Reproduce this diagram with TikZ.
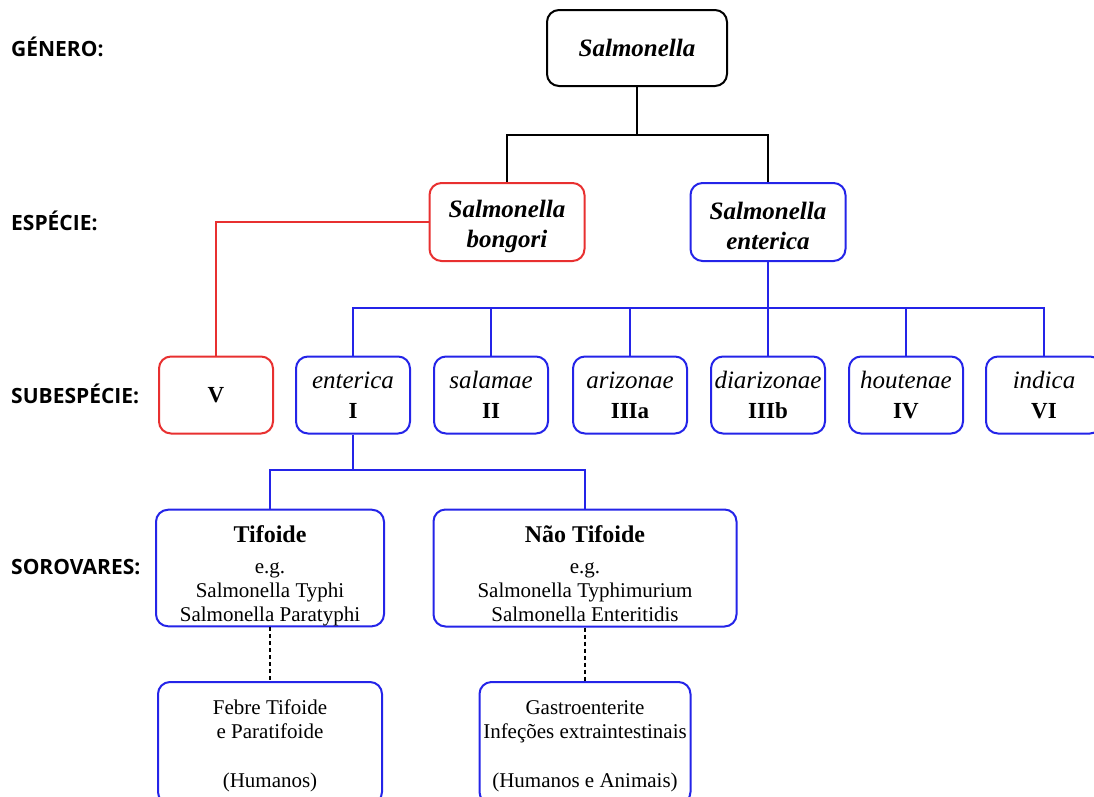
\documentclass[tikz,border=0pt]{standalone}
\usepackage{fontspec}
\setmainfont{Liberation Serif}
\newfontfamily\labfont{Open Sans}
\usetikzlibrary{positioning}
\definecolor{sred}{RGB}{232,48,48}
\definecolor{sblue}{RGB}{36,36,232}
\newcommand{\topgap}[1]{\rule{0pt}{#1}}
\newcommand{\botgap}[1]{\rule[-#1]{0pt}{#1}}

\begin{document}
\begin{tikzpicture}[x=1pt, y=-1pt,
  lab/.style={font={\fontsize{21}{24}\selectfont\labfont\bfseries}, anchor=base west, inner sep=0pt},
  box/.style={draw, rounded corners=12pt, line width=2pt, align=center, inner sep=0pt},
  genbox/.style={box, minimum width=180pt, minimum height=76pt,
                 font=\fontsize{25}{30}\selectfont\bfseries\itshape},
  spbox/.style={box, minimum width=155pt, minimum height=78pt,
                font=\fontsize{25}{30}\selectfont\bfseries\itshape},
  subbox/.style={box, draw=sblue, minimum width=114pt, minimum height=77pt,
                 font=\fontsize{23}{30}\selectfont},
  sorbox/.style={box, draw=sblue, minimum height=116pt, font=\fontsize{21}{24}\selectfont},
  dzbox/.style={box, draw=sblue, minimum height=122pt, font=\fontsize{21}{24}\selectfont},
  conn/.style={line width=2pt},
  dash line/.style={line width=1.4pt, dashed, dash pattern=on 4pt off 3pt}]

\useasboundingbox (0,0) rectangle (1094,796);

% Row labels
\node[lab] (lgen) at (11,56) {GÉNERO:};
\node[lab] (lesp) at (11,230) {ESPÉCIE:};
\node[lab] (lsub) at (11,403) {SUBESPÉCIE:};
\node[lab] (lsor) at (11,574) {SOROVARES:};

% Genus and species
\node[genbox] (salm) at (637,48) {Salmonella};
\node[spbox, draw=sred] (bong) at (507,222) {\topgap{26pt}Salmonella\\bongori};
\node[spbox, draw=sblue] (ente) at (768,222) {\topgap{26pt}Salmonella\\enterica};

% Subspecies
\node[subbox, draw=sred] (sV) at (216,395) {\textbf{V}};
\node[subbox] (sI) at (353,395) {{\fontsize{25}{30}\selectfont\itshape enterica}\\\textbf{I}};
\node[subbox] (sII) at (491,395) {{\fontsize{25}{30}\selectfont\itshape salamae}\\\textbf{II}};
\node[subbox] (sIIIa) at (630,395) {{\fontsize{25}{30}\selectfont\itshape arizonae}\\\textbf{IIIa}};
\node[subbox] (sIIIb) at (768,395) {{\fontsize{25}{30}\selectfont\itshape diarizonae}\\\textbf{IIIb}};
\node[subbox] (sIV) at (906,395) {{\fontsize{25}{30}\selectfont\itshape houtenae}\\\textbf{IV}};
\node[subbox, minimum width=116pt] (sVI) at (1044,395) {{\fontsize{25}{30}\selectfont\itshape indica}\\\textbf{VI}};

% Serovars
\node[sorbox, minimum width=228pt] (tif) at (270,568)
  {{\fontsize{24}{24}\selectfont\bfseries\topgap{33pt}Tifoide}\\[7pt]e.g.\\Salmonella Typhi\\Salmonella Paratyphi};
\node[sorbox, minimum width=303pt] (ntif) at (585,568)
  {{\fontsize{24}{24}\selectfont\bfseries\topgap{33pt}Não Tifoide}\\[7pt]e.g.\\Salmonella Typhimurium\\Salmonella Enteritidis\botgap{5pt}};

% Diseases
\node[dzbox, minimum width=224pt] (febre) at (270,743)
  {\topgap{21pt}Febre Tifoide\\e Paratifoide\\[25pt](Humanos)};
\node[dzbox, minimum width=211pt] (gastro) at (585,743)
  {\topgap{21pt}Gastroenterite\\Infeções extraintestinais\\[25pt](Humanos e Animais)};

% Connectors
\coordinate (j1) at (637,135);
\coordinate (j2) at (768,308);
\coordinate (j3) at (353,470);
\draw[conn] (salm) -- (j1) -| (bong.north);
\draw[conn] (j1) -| (ente.north);
\draw[conn, sred] (bong.west) -| (sV.north);
\draw[conn, sblue] (ente) -- (j2);
\foreach \n in {sI,sII,sIIIa,sIIIb,sIV,sVI}
  \draw[conn, sblue] (j2) -| (\n.north);
\draw[conn, sblue] (sI) -- (j3);
\draw[conn, sblue] (j3) -| (tif.north);
\draw[conn, sblue] (j3) -| (ntif.north);
\draw[dash line] (tif) -- (febre);
\draw[dash line] (ntif) -- (gastro);
\end{tikzpicture}
\end{document}
